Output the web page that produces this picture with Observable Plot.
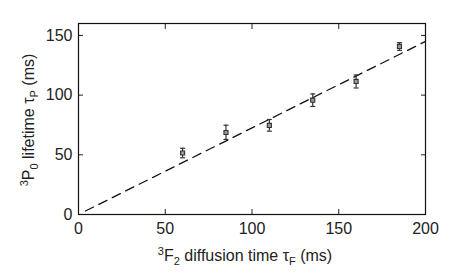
<!DOCTYPE html>
<html><head><meta charset="utf-8">
<script src="https://cdn.jsdelivr.net/npm/d3@7"></script>
<script src="https://cdn.jsdelivr.net/npm/@observablehq/plot@0.6"></script>
<style>
body{margin:0;background:#fff;}
#chart svg{display:block;}
</style>
</head><body><div id="chart"></div>
<script>
const diffusionTime = [60, 85, 110, 135, 160, 185];
const lifetime = [51.5, 68.7, 74.6, 95.8, 111.5, 140.8];
const errLow = [47.5, 62.9, 69.8, 90.5, 106, 137.5];
const errHigh = [55.5, 74.8, 79.6, 101, 116.8, 143.9];
const fitX = [4, 200];
const fitY = [2.9, 145];
const xTicks = [0, 50, 100, 150, 200];
const yTicks = [0, 50, 100, 150];

const pts = diffusionTime.map((x, i) => ({x, y: lifetime[i], lo: errLow[i], hi: errHigh[i]}));
const fit = fitX.map((x, i) => ({x, y: fitY[i]}));
const capSymbol = {draw(ctx, size){ const r = Math.sqrt(size/Math.PI); ctx.moveTo(-r,0); ctx.lineTo(r,0); }};
const font = "'Liberation Sans', Arial, sans-serif";

const plot = Plot.plot({
  width: 469, height: 276,
  marginLeft: 78, marginRight: 44, marginTop: 23, marginBottom: 62,
  style: {fontFamily: font, fontSize: "16px", color: "#222", background: "#fff"},
  x: {domain: [0, 200]},
  y: {domain: [0, 160]},
  marks: [
    Plot.line(fit, {x: "x", y: "y", stroke: "#111", strokeWidth: 1.3, strokeDasharray: "9,6"}),
    Plot.ruleX(pts, {x: "x", y1: "lo", y2: "hi", stroke: "#333", strokeWidth: 1.2}),
    Plot.dot(pts, {x: "x", y: "lo", symbol: capSymbol, r: 2.5, stroke: "#333", strokeWidth: 1.2}),
    Plot.dot(pts, {x: "x", y: "hi", symbol: capSymbol, r: 2.5, stroke: "#333", strokeWidth: 1.2}),
    Plot.dot(pts, {x: "x", y: "y", symbol: "square", r: 2.3, stroke: "#333", fill: "#999", strokeWidth: 1.1}),
    Plot.axisX({anchor: "bottom", ticks: xTicks, tickSize: 0, tickPadding: 8, label: null, fill: "#222"}),
    Plot.axisX({anchor: "bottom", ticks: xTicks, tickSize: -5, text: null, label: null, stroke: "#222"}),
    Plot.axisX({anchor: "top", ticks: xTicks, tickSize: -5, text: null, label: null, stroke: "#222"}),
    Plot.axisY({anchor: "left", ticks: yTicks, tickSize: 0, tickPadding: 6, label: null, fill: "#222"}),
    Plot.axisY({anchor: "left", ticks: yTicks, tickSize: -5, text: null, label: null, stroke: "#222"}),
    Plot.axisY({anchor: "right", ticks: yTicks, tickSize: -5, text: null, label: null, stroke: "#222"}),
    Plot.frame({stroke: "#111", strokeWidth: 1.2})
  ]
});
document.getElementById("chart").appendChild(plot);

const svg = d3.select(plot);
const xl = svg.append("text").attr("x", 245).attr("y", 261).attr("text-anchor", "middle")
  .attr("fill", "#222").style("font-family", font).style("font-size", "16px");
xl.append("tspan").attr("font-size", "11px").attr("dy", "-6").text("3");
xl.append("tspan").attr("dy", "6").text("F");
xl.append("tspan").attr("font-size", "11px").attr("dy", "4").text("2");
xl.append("tspan").attr("dy", "-4").text(" diffusion time τ");
xl.append("tspan").attr("font-size", "11px").attr("dy", "4").text("F");
xl.append("tspan").attr("dy", "-4").text(" (ms)");

const yl = svg.append("text").attr("transform", "translate(34,120) rotate(-90)").attr("text-anchor", "middle")
  .attr("fill", "#222").style("font-family", font).style("font-size", "16px");
yl.append("tspan").attr("font-size", "11px").attr("dy", "-6").text("3");
yl.append("tspan").attr("dy", "6").text("P");
yl.append("tspan").attr("font-size", "11px").attr("dy", "4").text("0");
yl.append("tspan").attr("dy", "-4").text(" lifetime τ");
yl.append("tspan").attr("font-size", "11px").attr("dy", "4").text("P");
yl.append("tspan").attr("dy", "-4").text(" (ms)");
</script>
</body></html>
